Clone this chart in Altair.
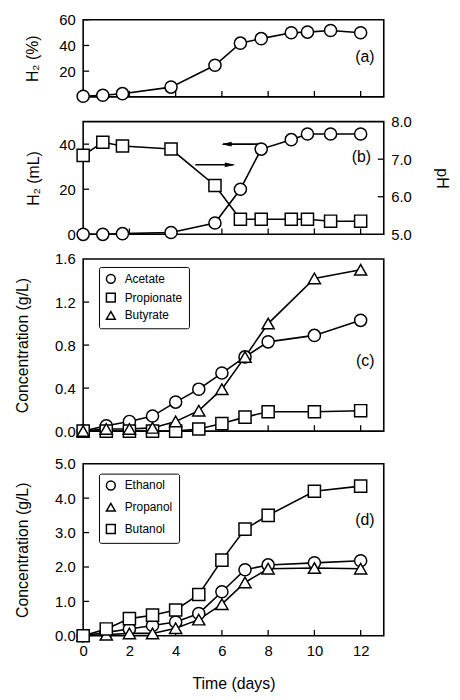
import altair as alt
import pandas as pd

# ---------------- data ----------------
# panels (a) and (b): sampling times (days)
t_ab = [0, 0.85, 1.7, 3.8, 5.7, 6.8, 7.7, 9.0, 9.7, 10.7, 12]
h2_pct = [0.5, 1.3, 2.5, 7.6, 24.6, 41.8, 45.3, 49.9, 50.4, 51.6, 49.9]
h2_ml = [0, 0, 0.3, 0.8, 5, 20, 37.8, 42, 44.5, 44.5, 44.5]
ph_vals = [7.1, 7.45, 7.35, 7.27, 6.3, 5.4, 5.4, 5.4, 5.4, 5.35, 5.35]

# panels (c) and (d)
t_cd = [0, 1, 2, 3, 4, 5, 6, 7, 8, 10, 12]
acid_names = ["Acetate", "Propionate", "Butyrate"]
acetate = [0, 0.05, 0.09, 0.14, 0.27, 0.39, 0.54, 0.69, 0.83, 0.89, 1.03]
propionate = [0, 0, 0, 0, 0, 0.02, 0.07, 0.13, 0.18, 0.18, 0.19]
butyrate = [0, 0.02, 0.02, 0.03, 0.09, 0.19, 0.39, 0.69, 1.0, 1.42, 1.5]

alc_names = ["Ethanol", "Propanol", "Butanol"]
ethanol = [0, 0.1, 0.2, 0.3, 0.4, 0.65, 1.28, 1.92, 2.06, 2.12, 2.18]
propanol = [0, 0.03, 0.07, 0.07, 0.22, 0.47, 0.92, 1.55, 1.95, 1.97, 1.95]
butanol = [0, 0.2, 0.5, 0.6, 0.75, 1.2, 2.2, 3.1, 3.5, 4.2, 4.35]

# axis tick values
x_ticks = [0, 2, 4, 6, 8, 10, 12]
ya_ticks = [20, 40, 60]
yb_ticks = [0, 20, 40]
ph_ticks = [5, 6, 7, 8]
yc_ticks = [0, 0.4, 0.8, 1.2, 1.6]
yd_ticks = [0, 1, 2, 3, 4, 5]

# arrows in panel (b)
arrow_ph = {"x1": [4.85], "x2": [6.5], "v": [6.85], "head": [6.35]}
arrow_h2 = {"x1": [7.8], "x2": [6.05], "v": [40], "head": [6.2]}

# panel letters
lab_a = {"t": [12.6], "v": [31], "s": ["(a)"]}
lab_b = {"t": [12.45], "v": [7.05], "s": ["(b)"]}
lab_c = {"t": [12.6], "v": [0.65], "s": ["(c)"]}
lab_d = {"t": [12.6], "v": [3.36], "s": ["(d)"]}

# ---------------- layout ----------------
W = 304
HA, HB, HC, HD = 78, 114, 174, 174
TK = 6
FONT = "Liberation Sans"
MSIZE = 150

X_SCALE = alt.Scale(domain=[0, 13], nice=False, zero=False)


def xenc(field="t", axis=None):
    return alt.X(f"{field}:Q", scale=X_SCALE, axis=axis)


def line(df, x, y, **kw):
    return alt.Chart(df).mark_line(color="black", strokeWidth=1.6).encode(x=x, y=y, **kw)


def points(df, x, y, shape="circle", **kw):
    style = dict(filled=True, fill="white", stroke="black",
                 strokeWidth=1.5, size=MSIZE, opacity=1)
    return alt.Chart(df).mark_point(shape=shape, **style).encode(x=x, y=y, **kw)


def xtick_layer(h, x_axis=None):
    return alt.Chart(pd.DataFrame({"t": x_ticks})).mark_rule(
        color="black", strokeWidth=1.3
    ).encode(x=xenc("t", x_axis), y=alt.value(h), y2=alt.value(h - TK))


def ytick_layer(vals, y, right=False):
    if right:
        xa, xb = alt.value(W), alt.value(W - TK)
    else:
        xa, xb = alt.value(0), alt.value(TK)
    return alt.Chart(pd.DataFrame({"v": vals})).mark_rule(
        color="black", strokeWidth=1.3
    ).encode(y=y, x=xa, x2=xb)


def letter(d, y, x_axis=None):
    return alt.Chart(pd.DataFrame(d)).mark_text(
        align="right", baseline="middle", fontSize=16, font=FONT, color="black"
    ).encode(x=xenc("t", x_axis), y=y, text="s:N")


def left_axis(vals, title, fmt=None, tpad=24):
    kw = dict(values=vals, title=title, labelPadding=8, titlePadding=tpad)
    if fmt:
        kw["format"] = fmt
    return alt.Axis(**kw)


def series_points(df, field, names, shapes, x, y, lx, ly, rowpad):
    leg = alt.Legend(
        title=None, orient="none", legendX=lx, legendY=ly,
        strokeColor="black", padding=6, cornerRadius=2,
        symbolStrokeWidth=1.5, symbolSize=80, symbolFillColor="white",
        labelFontSize=12, labelFont=FONT, labelColor="black",
        rowPadding=rowpad, labelOffset=8,
    )
    return alt.Chart(df).mark_point(
        filled=False, fill="white", fillOpacity=1, strokeWidth=1.5,
        size=MSIZE, opacity=1
    ).encode(
        x=x, y=y,
        shape=alt.Shape(f"{field}:N", scale=alt.Scale(domain=names, range=shapes), legend=leg),
        color=alt.Color(f"{field}:N", scale=alt.Scale(domain=names, range=["black"] * 3), legend=leg),
    )


# ---------------- panel (a) ----------------
df_a = pd.DataFrame({"t": t_ab, "v": h2_pct})
ya = alt.Y("v:Q", scale=alt.Scale(domain=[0, 60], nice=False),
           axis=left_axis(ya_ticks, "H₂ (%)", tpad=18))
panel_a = alt.layer(
    xtick_layer(HA),
    ytick_layer(ya_ticks, ya),
    line(df_a, xenc(), ya),
    points(df_a, xenc(), ya),
    letter(lab_a, ya),
).properties(width=W, height=HA)

# ---------------- panel (b) ----------------
df_b1 = pd.DataFrame({"t": t_ab, "v": h2_ml})
df_b2 = pd.DataFrame({"t": t_ab, "v": ph_vals})
yb = alt.Y("v:Q", scale=alt.Scale(domain=[0, 50], nice=False),
           axis=left_axis(yb_ticks, "H₂ (mL)", tpad=17))
yph = alt.Y("v:Q", scale=alt.Scale(domain=[5, 8], nice=False, zero=False),
            axis=alt.Axis(values=ph_ticks, format=".1f", title="pH", orient="right",
                          labelPadding=7, titlePadding=22))

right_arrow = "M-1,-0.45L1,0L-1,0.45Z"
left_arrow = "M1,-0.45L-1,0L1,0.45Z"

a_ph = pd.DataFrame(arrow_ph)
a_h2 = pd.DataFrame(arrow_h2)

h2_group = alt.layer(
    xtick_layer(HB),
    ytick_layer([20, 40], yb),
    line(df_b1, xenc(), yb),
    alt.Chart(a_h2).mark_rule(color="black", strokeWidth=1.6).encode(
        x=xenc("x1"), x2="x2:Q", y=yb),
    alt.Chart(a_h2).mark_point(shape=left_arrow, filled=True, color="black",
                               size=110, opacity=1).encode(x=xenc("head"), y=yb),
    points(df_b1, xenc(), yb),
)
ph_group = alt.layer(
    ytick_layer([6, 7], yph, right=True),
    line(df_b2, xenc(), yph),
    alt.Chart(a_ph).mark_rule(color="black", strokeWidth=1.6).encode(
        x=xenc("x1"), x2="x2:Q", y=yph),
    alt.Chart(a_ph).mark_point(shape=right_arrow, filled=True, color="black",
                               size=110, opacity=1).encode(x=xenc("head"), y=yph),
    points(df_b2, xenc(), yph, shape="square"),
    letter(lab_b, yph),
)
panel_b = alt.layer(h2_group, ph_group).resolve_scale(y="independent").properties(
    width=W, height=HB)

# ---------------- panel (c) ----------------
df_c = pd.DataFrame({
    "t": t_cd * 3,
    "v": acetate + propionate + butyrate,
    "acid": [acid_names[0]] * 11 + [acid_names[1]] * 11 + [acid_names[2]] * 11,
})
yc = alt.Y("v:Q", scale=alt.Scale(domain=[0, 1.6], nice=False),
           axis=left_axis(yc_ticks, "Concentration (g/L)", ".1f"))

# legend of (c) is placed relative to the origin of the nested (a)-(c) column
panel_c = alt.layer(
    xtick_layer(HC),
    ytick_layer([0.4, 0.8, 1.2], yc),
    line(df_c, xenc(), yc, detail="acid:N"),
    series_points(df_c, "acid", acid_names, ["circle", "square", "triangle-up"],
                  xenc(), yc, 16, 250, 3),
    letter(lab_c, yc),
).properties(width=W, height=HC)

# ---------------- panel (d) ----------------
df_d = pd.DataFrame({
    "t": t_cd * 3,
    "v": ethanol + propanol + butanol,
    "alc": [alc_names[0]] * 11 + [alc_names[1]] * 11 + [alc_names[2]] * 11,
})
x_axis_d = alt.Axis(values=x_ticks, format="d", title="Time (days)",
                    labelPadding=8, titlePadding=17, labelFlush=False)
yd = alt.Y("v:Q", scale=alt.Scale(domain=[0, 5], nice=False),
           axis=left_axis(yd_ticks, "Concentration (g/L)", ".1f"))
panel_d = alt.layer(
    xtick_layer(HD, x_axis_d),
    ytick_layer([1, 2, 3, 4], yd),
    line(df_d, xenc("t", x_axis_d), yd, detail="alc:N"),
    series_points(df_d, "alc", alc_names, ["circle", "triangle-up", "square"],
                  xenc("t", x_axis_d), yd, 16, 10, 7),
    letter(lab_d, yd, x_axis_d),
).properties(width=W, height=HD)

top = alt.vconcat(panel_a, panel_b, panel_c, spacing=7)
chart = alt.vconcat(top, panel_d, spacing=15).resolve_scale(
    shape="independent", color="independent"
).resolve_legend(
    shape="independent", color="independent"
).properties(
    padding={"left": 6, "right": 2, "top": 0, "bottom": 1}
).configure(
    font=FONT
).configure_view(
    stroke="black", strokeWidth=1.6
).configure_axis(
    domain=False, ticks=False, grid=False,
    labelFont=FONT, labelFontSize=15, labelColor="black",
    titleFont=FONT, titleFontSize=16, titleFontWeight="normal", titleColor="black",
)

chart.save("out.html", embed_options={"renderer": "svg", "actions": False})
